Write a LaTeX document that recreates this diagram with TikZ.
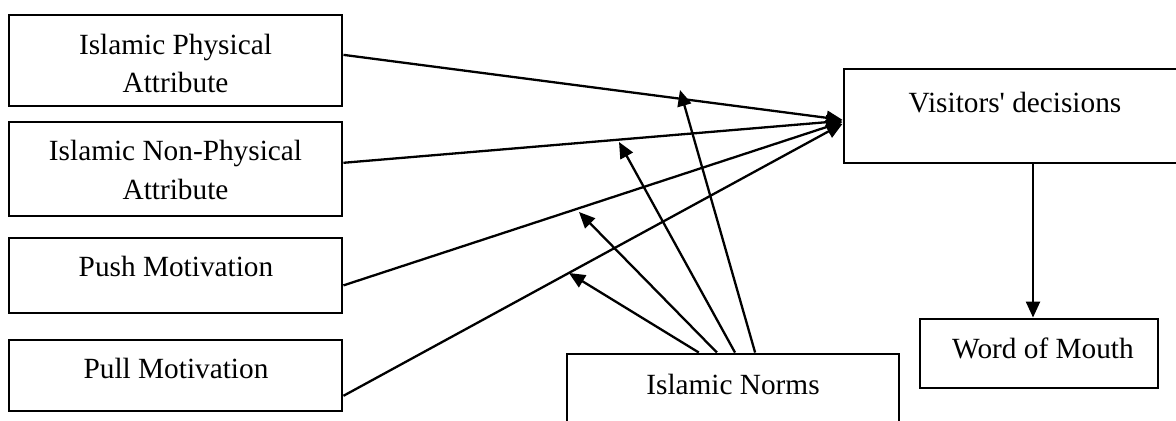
\documentclass[tikz,border=0pt]{standalone}
\usepackage{fontspec}
\setmainfont{Liberation Serif}[Ligatures=TeXOff]
\usetikzlibrary{arrows.meta,calc}
\begin{document}
\begin{tikzpicture}[x=0.5pt,y=-0.5pt,
  boxline/.style={draw=black,line width=1.45pt},
  lbl/.style={anchor=base,inner sep=0pt,font=\fontsize{14.65}{19}\selectfont},
  conn/.style={draw=black,line width=1.15pt,-{Triangle[length=8pt,width=7pt]}},
  tip/.style={coordinate}]
\useasboundingbox (0,0) rectangle (1176,421);
\clip (0,0) rectangle (1176,421);
% boxes
\node[boxline,rectangle,inner sep=0pt,minimum width=333pt/2,minimum height=91pt/2] (b1) at (175.5,60.5) {};
\node[boxline,rectangle,inner sep=0pt,minimum width=333pt/2,minimum height=94pt/2] (b2) at (175.5,169) {};
\node[boxline,rectangle,inner sep=0pt,minimum width=333pt/2,minimum height=75pt/2] (b3) at (175.5,275.5) {};
\node[boxline,rectangle,inner sep=0pt,minimum width=333pt/2,minimum height=71pt/2] (b4) at (175.5,375.5) {};
\node[boxline,rectangle,inner sep=0pt,minimum width=376pt/2,minimum height=94pt/2] (vd) at (1032,116) {};
\node[boxline,rectangle,inner sep=0pt,minimum width=238pt/2,minimum height=69pt/2] (wm) at (1039,353.5) {};
\node[boxline,rectangle,inner sep=0pt,minimum width=332pt/2,minimum height=106pt/2] (nm) at (733,407) {};
% texts
\node[lbl] (t1a) at (175.5,55) {Islamic Physical};
\node[lbl] (t1b) at (175.5,93) {Attribute};
\node[lbl] (t2a) at (175.5,161) {Islamic Non-Physical};
\node[lbl] (t2b) at (175.5,200) {Attribute};
\node[lbl] (t3) at (176,277) {Push Motivation};
\node[lbl] (t4) at (176,379) {Pull Motivation};
\node[lbl] (t5) at (1015,113) {Visitors' decisions};
\node[lbl] (t6) at (1043,359) {Word of Mouth};
\node[lbl] (t7) at (733,395) {Islamic Norms};
% connectors to visitors' decisions
\draw[conn] ($(b1.north east)!0.44!(b1.south east)$) -- ($(vd.north west)!0.54!(vd.south west)$);
\draw[conn] ($(b2.north east)!0.436!(b2.south east)$) -- ($(vd.north west)!0.55!(vd.south west)$);
\draw[conn] ($(b3.north east)!0.627!(b3.south east)$) -- ($(vd.north west)!0.56!(vd.south west)$);
\draw[conn] ($(b4.north east)!0.775!(b4.south east)$) -- ($(vd.north west)!0.58!(vd.south west)$);
% moderating arrows
\coordinate (m1) at (680,90);
\coordinate (m2) at (619,142);
\coordinate (m3) at (579,212);
\coordinate (m4) at (569,273);
\draw[conn] ($(nm.north west)!0.566!(nm.north east)$) -- (m1);
\draw[conn] ($(nm.north west)!0.506!(nm.north east)$) -- (m2);
\draw[conn] ($(nm.north west)!0.452!(nm.north east)$) -- (m3);
\draw[conn] ($(nm.north west)!0.398!(nm.north east)$) -- (m4);
% visitors to word of mouth
\draw[conn] (vd.south -| 1033,0) -- (wm.north -| 1033,0);
\end{tikzpicture}
\end{document}
